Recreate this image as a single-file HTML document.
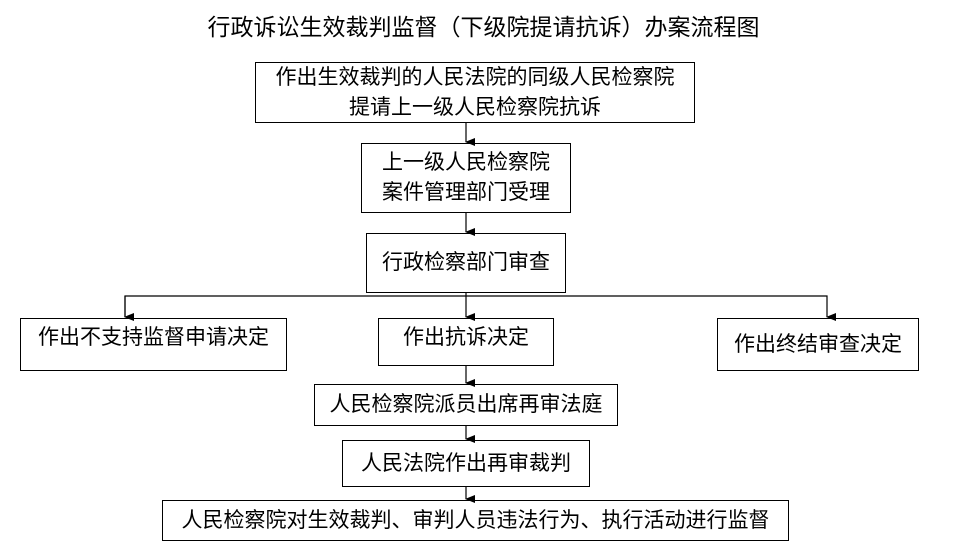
<!DOCTYPE html>
<html><head><meta charset="utf-8"><style>
body{margin:0;background:#fff;width:967px;height:554px;position:relative;overflow:hidden;font-family:"Liberation Sans","Noto Sans CJK SC",sans-serif;color:#000}
.b{position:absolute;border:1.5px solid #000;box-sizing:border-box;display:flex;align-items:center;justify-content:center;text-align:center;font-size:21px;line-height:30px;white-space:nowrap}
.t{position:absolute;left:0;width:967px;top:8px;text-align:center;font-size:23px}
svg{position:absolute;left:0;top:0}
</style></head><body>
<div class="t">行政诉讼生效裁判监督（下级院提请抗诉）办案流程图</div>
<svg width="967" height="554">
<defs><marker id="a" markerWidth="8" markerHeight="10" refX="4" refY="9" orient="auto" markerUnits="userSpaceOnUse"><path d="M0,0 L8,0 L4,10z" fill="#000"/></marker></defs>
<g stroke="#000" stroke-width="1.2" fill="none">
<line x1="466" y1="122" x2="466" y2="142" marker-end="url(#a)"/>
<line x1="466" y1="212" x2="466" y2="232" marker-end="url(#a)"/>
<line x1="466" y1="292" x2="466" y2="317" marker-end="url(#a)"/>
<polyline points="125,317 125,296 827,296 827,317" marker-end="url(#a)"/>
<line x1="125" y1="296" x2="125" y2="317" marker-end="url(#a)"/>
<line x1="466" y1="365" x2="466" y2="383" marker-end="url(#a)"/>
<line x1="466" y1="425" x2="466" y2="439" marker-end="url(#a)"/>
<line x1="466" y1="486" x2="466" y2="499" marker-end="url(#a)"/>
</g></svg>
<div class="b" style="left:255px;top:62px;width:440px;height:61px">作出生效裁判的人民法院的同级人民检察院<br>提请上一级人民检察院抗诉</div>
<div class="b" style="left:361px;top:143px;width:210px;height:70px">上一级人民检察院<br>案件管理部门受理</div>
<div class="b" style="left:366px;top:233px;width:200px;height:60px">行政检察部门审查</div>
<div class="b" style="left:20px;top:318px;width:267px;height:53px;align-items:flex-start;padding-top:4px">作出不支持监督申请决定</div>
<div class="b" style="left:378px;top:318px;width:176px;height:48px;align-items:flex-start;padding-top:4px">作出抗诉决定</div>
<div class="b" style="left:717px;top:318px;width:202px;height:53px">作出终结审查决定</div>
<div class="b" style="left:314px;top:384px;width:304px;height:42px">人民检察院派员出席再审法庭</div>
<div class="b" style="left:342px;top:440px;width:248px;height:47px">人民法院作出再审裁判</div>
<div class="b" style="left:162px;top:500px;width:627px;height:41px">人民检察院对生效裁判、审判人员违法行为、执行活动进行监督</div>
</body></html>
